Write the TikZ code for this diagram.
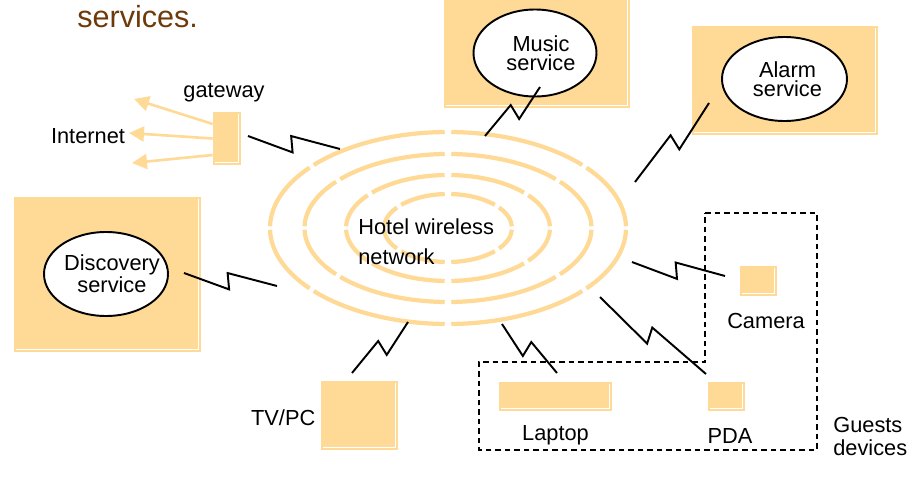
\documentclass[tikz,border=0pt]{standalone}
\usepackage{fontspec}
\setmainfont{Liberation Sans}
\usetikzlibrary{arrows.meta,calc,positioning,shapes.geometric}
\definecolor{pale}{RGB}{255,218,150}
\definecolor{titlebrown}{RGB}{110,58,10}

\begin{document}
\begin{tikzpicture}[x=0.2mm,y=-0.2mm,font=\fontsize{12.4}{13}\selectfont,
    box/.style={rectangle,fill=pale,inner sep=0pt,path picture={
        \draw[white,line width=.5pt]
          ([xshift=-1.5pt,yshift=-1pt]path picture bounding box.north east)
          -- ([xshift=-1.5pt,yshift=1.5pt]path picture bounding box.south east)
          -- ([xshift=1pt,yshift=1.5pt]path picture bounding box.south west);}},
    service/.style={ellipse,draw,line width=1.1pt,fill=white,inner xsep=-3mm,
        inner ysep=0pt,align=center,font=\fontsize{12.4}{11}\selectfont},
    tag/.style={inner sep=0pt},
    ring/.style={pale,line width=.85mm},
    web/.style={pale,line width=1.5pt,-{Triangle[length=3mm,width=3mm]}},
    zap/.style={line width=1.1pt,to path={
        -- ($(\tikztostart)!.5!(\tikztotarget)!#1*2mm!90:(\tikztotarget)$)
        -- ($(\tikztostart)!.46!(\tikztotarget)!#1*1.2mm!-90:(\tikztotarget)$)
        -- (\tikztotarget)}},
    zap/.default=1,
    guestline/.style={dash pattern=on 1.1mm off .8mm,line width=.8pt}]

  \useasboundingbox (0,0) rectangle (917,484);

  \node[tag,anchor=base west,text=titlebrown,font=\fontsize{17.4}{20}\selectfont]
    (title) at (77,27) {services.};

  % wireless network
  \coordinate (hub) at (448,228);
  \foreach \rx/\ry/\g in {35.6/19.2/1.05, 28.7/14.8/1.3, 20.4/10.6/1.85, 12.8/6.8/2.9}
    \foreach \a/\b in {0/40,40/90,90/140,140/180,180/220,220/270,270/320,320/360}
      \draw[ring] (hub) ++({\a+\g}:{\rx mm} and {\ry mm})
        arc[start angle=\a+\g,end angle=\b-\g,x radius=\rx mm,y radius=\ry mm];
  \node[tag,align=left,anchor=north west,font=\fontsize{12.4}{17}\selectfont]
    (hotel) at (358,218) {Hotel wireless\\network};

  % services
  \node[box,minimum width=37.2mm,minimum height=23.6mm] (musicbox) at (537,49) {};
  \node[service,minimum width=24.6mm,minimum height=17.4mm] (music) at (535,53)
    {\hspace*{2.4mm}Music\\\hspace*{2.4mm}service};
  \node[box,minimum width=37.2mm,minimum height=21.8mm] (alarmbox) at (785,80.5) {};
  \node[service,minimum width=25mm,minimum height=16.8mm] (alarm) at (784.5,79)
    {\hspace*{1.2mm}Alarm\\\hspace*{1.2mm}service};
  \node[box,minimum width=37.4mm,minimum height=31mm] (discbox) at (107.5,274.5) {};
  \node[service,minimum width=24.8mm,minimum height=16.8mm] (disc) at (106,274)
    {\hspace*{2.4mm}Discovery\\\hspace*{2.4mm}service};

  % devices
  \node[box,minimum width=5.6mm,minimum height=10.6mm] (gateway) at (227,138.5) {};
  \node[tag] (gwtag) [above=1.9mm of gateway,xshift=-.6mm] {gateway};
  \node[tag] (inet) at (88,136) {Internet};
  \node[box,minimum width=15.4mm,minimum height=13.8mm] (tvpc) at (359.5,415.5) {};
  \node[tag] (tvtag) [left=1mm of tvpc,yshift=-.5mm] {TV/PC};
  \node[box,minimum width=7.4mm,minimum height=6mm] (camera) at (758.5,281) {};
  \node[tag] (camtag) [below=3.4mm of camera,xshift=1.5mm] {Camera};
  \node[box,minimum width=22.6mm,minimum height=5.8mm] (laptop) at (555.5,396.5) {};
  \node[tag] (laptag) [below=2.8mm of laptop] {Laptop};
  \node[box,minimum width=7.4mm,minimum height=5.8mm] (pda) at (726.5,396.5) {};
  \node[tag] (pdatag) [below=3.4mm of pda,xshift=.7mm] {PDA};
  \node[tag,align=left,anchor=north west,font=\fontsize{12.4}{13}\selectfont]
    (guests) at (833,417) {Guests\\devices};

  \draw[guestline] (705,213) -- (817,213) -- (817,450) -- (479,450)
    -- (479,362) -- (705,362) -- cycle;

  % links to the Internet
  \coordinate (inet-a) at (134,99);
  \coordinate (inet-b) at (129,133);
  \coordinate (inet-c) at (132,163);
  \draw[web] ([yshift=2.9mm]gateway.west) -- (inet-a);
  \draw[web] (gateway.west) -- (inet-b);
  \draw[web] ([yshift=-3.3mm]gateway.west) -- (inet-c);

  % radio links
  \coordinate (gw-out) at (248,136);    \coordinate (gw-in) at (340,149);
  \coordinate (disc-out) at (184,273);  \coordinate (disc-in) at (277,286);
  \coordinate (music-out) at (540,87);  \coordinate (music-in) at (485,136);
  \coordinate (alarm-out) at (709,103); \coordinate (alarm-in) at (635,182);
  \coordinate (tv-in) at (408,322);     \coordinate (tv-out) at (352,373);
  \coordinate (lap-in) at (502,324);    \coordinate (lap-out) at (557,373);
  \coordinate (cam-in) at (632,262);    \coordinate (cam-out) at (725,276);
  \coordinate (pda-in) at (600,297);    \coordinate (pda-out) at (706,374);

  \draw[zap=-1] (gw-out) to (gw-in);
  \draw[zap=-1] (disc-out) to (disc-in);
  \draw[zap] (music-out) to (music-in);
  \draw[zap] (alarm-out) to (alarm-in);
  \draw[zap] (tv-in) to (tv-out);
  \draw[zap=-1] (lap-in) to (lap-out);
  \draw[zap=-1] (cam-in) to (cam-out);
  \draw[zap=-1] (pda-in) to (pda-out);
\end{tikzpicture}
\end{document}
